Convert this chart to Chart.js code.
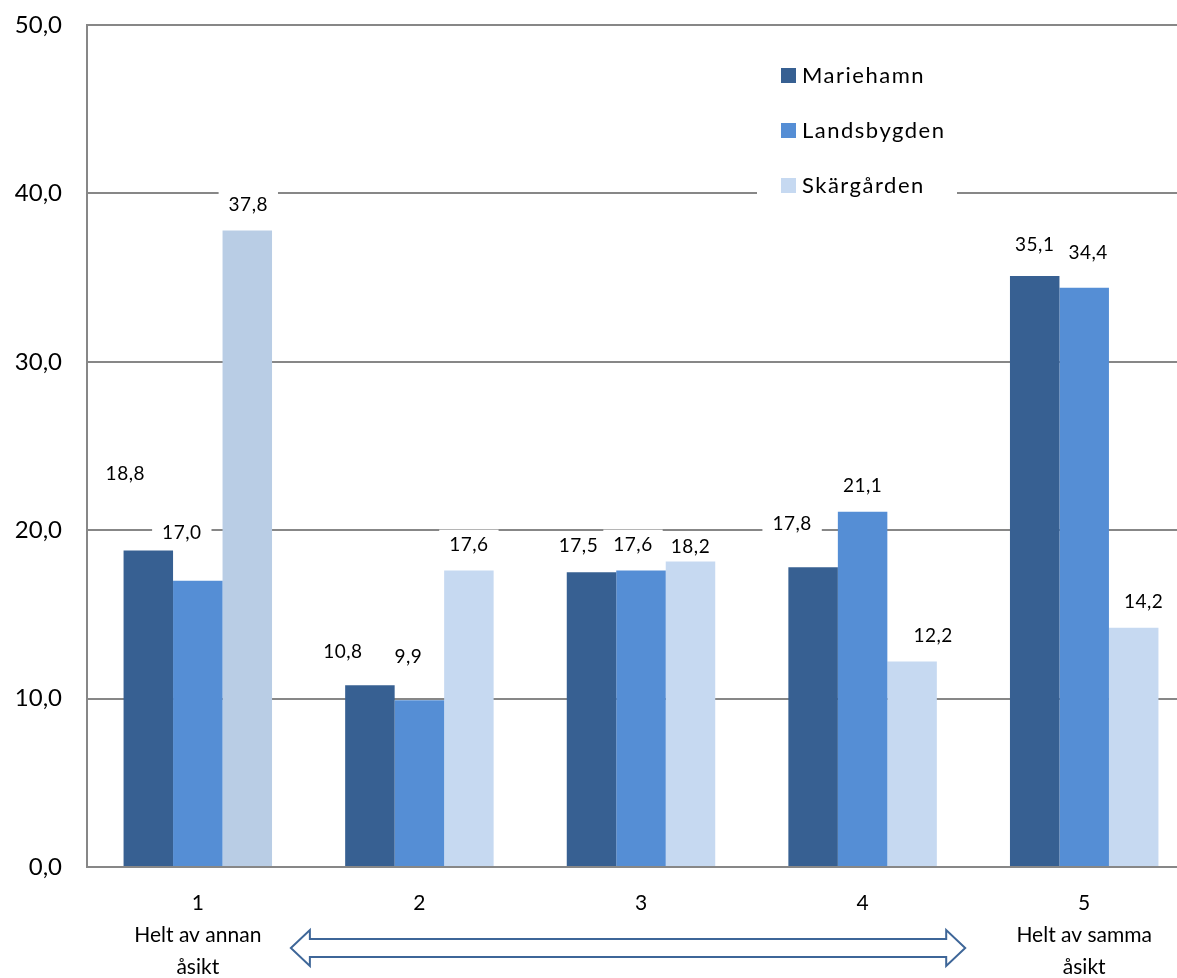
<!DOCTYPE html>
<html>
<head>
<meta charset="utf-8">
<script src="https://cdn.jsdelivr.net/npm/chart.js@4.4.1/dist/chart.umd.min.js"></script>
<style>
  html, body { margin: 0; padding: 0; background: #fff; overflow: hidden; }
  #wrap { width: 1195px; height: 978px; }
</style>
</head>
<body>
<div id="wrap"><canvas id="myChart"></canvas></div>
<script>
// data
var categories = [["1", "Helt av annan", "åsikt"], "2", "3", "4", ["5", "Helt av samma", "åsikt"]];
var seriesNames = ["Mariehamn", "Landsbygden", "Skärgården"];
var mariehamn = [18.8, 10.8, 17.5, 17.8, 35.1];
var landsbygden = [17.0, 9.9, 17.6, 21.1, 34.4];
var skargarden = [37.8, 17.6, 18.2, 12.2, 14.2];

var colDark = '#376092';
var colMid = '#558ED5';
var colLight = ['#B9CDE5', '#C6D9F1', '#C6D9F1', '#C6D9F1', '#C6D9F1'];
var gridCol = '#878787';
var font = 'Lato';

// label shifts (dx, dy) like the hand-moved labels in the original
var labelNudge = [
  [[-23, -51], [-27, -7], [-13, 0], [-21, -17], [0, -5]],
  [[-16, -22], [-11, -17], [-8, 0], [0, 0], [4, -9]],
  [[1, 0], [0, 0], [0, 12], [21, 0], [10, 0]]
];

function fmt(v) {
  return v.toFixed(1).replace('.', ',');
}

var valueLabels = {
  id: 'valueLabels',
  afterDatasetsDraw: function(chart) {
    var ctx = chart.ctx;
    ctx.save();
    ctx.font = '19px ' + font;
    ctx.letterSpacing = '0.5px';
    ctx.textAlign = 'center';
    ctx.textBaseline = 'middle';
    chart.data.datasets.forEach(function(ds, i) {
      chart.getDatasetMeta(i).data.forEach(function(bar, j) {
        var txt = fmt(ds.data[j]);
        var x = bar.x + labelNudge[i][j][0];
        var y = bar.y - 26 + labelNudge[i][j][1];
        var w = ctx.measureText(txt).width + 20;
        ctx.fillStyle = '#fff';
        ctx.fillRect(x - w / 2, y - 15, w, 30);
        ctx.fillStyle = '#000';
        ctx.fillText(txt, x, y);
      });
    });
    ctx.restore();
  }
};

var legendBox = {
  id: 'legendBox',
  afterDraw: function(chart) {
    var ctx = chart.ctx;
    var a = chart.chartArea;
    var left = a.left + 670, top = a.top + 20;
    ctx.save();
    ctx.fillStyle = '#fff';
    ctx.fillRect(left, top, 200, 162);
    ctx.font = '22px ' + font;
    ctx.letterSpacing = '1.5px';
    ctx.textBaseline = 'middle';
    ctx.textAlign = 'left';
    chart.data.datasets.forEach(function(ds, i) {
      var cy = top + 30 + i * 55;
      var c = Array.isArray(ds.backgroundColor) ? ds.backgroundColor[1] : ds.backgroundColor;
      ctx.fillStyle = c;
      ctx.fillRect(left + 24, cy - 7, 15, 15);
      ctx.fillStyle = '#000';
      ctx.fillText(ds.label, left + 45, cy + 1);
    });
    ctx.restore();
  }
};

var arrow = {
  id: 'arrow',
  afterDraw: function(chart) {
    var ctx = chart.ctx;
    var xs = chart.scales.x;
    var cw = xs.getPixelForValue(1) - xs.getPixelForValue(0);
    var x1 = xs.getPixelForValue(0) + 0.42 * cw;
    var x2 = xs.getPixelForValue(4) - 0.537 * cw;
    var y = chart.chartArea.bottom + 81;
    var hl = 19, hh = 18, sh = 9;
    ctx.save();
    ctx.beginPath();
    ctx.moveTo(x1, y);
    ctx.lineTo(x1 + hl, y - hh);
    ctx.lineTo(x1 + hl, y - sh);
    ctx.lineTo(x2 - hl, y - sh);
    ctx.lineTo(x2 - hl, y - hh);
    ctx.lineTo(x2, y);
    ctx.lineTo(x2 - hl, y + hh);
    ctx.lineTo(x2 - hl, y + sh);
    ctx.lineTo(x1 + hl, y + sh);
    ctx.lineTo(x1 + hl, y + hh);
    ctx.closePath();
    ctx.fillStyle = '#fff';
    ctx.fill();
    ctx.strokeStyle = '#3E6698';
    ctx.lineWidth = 2;
    ctx.stroke();
    ctx.restore();
  }
};

var ctx = document.getElementById('myChart');
var myChart = new Chart(ctx, {
  type: 'bar',
  data: {
    labels: categories,
    datasets: [
      { label: seriesNames[0], data: mariehamn, backgroundColor: colDark },
      { label: seriesNames[1], data: landsbygden, backgroundColor: colMid },
      { label: seriesNames[2], data: skargarden, backgroundColor: colLight }
    ]
  },
  options: {
    responsive: true,
    maintainAspectRatio: false,
    animation: false,
    datasets: {
      bar: { categoryPercentage: 0.67, barPercentage: 1.0 }
    },
    layout: { padding: { top: 25, left: 0, right: 0, bottom: 0 } },
    plugins: {
      legend: { display: false },
      tooltip: { enabled: false }
    },
    scales: {
      x: {
        grid: { display: false, drawTicks: false },
        border: { display: true, color: gridCol, width: 2 },
        ticks: {
          color: '#000',
          padding: 20,
          maxRotation: 0,
          font: { family: font, size: 21, lineHeight: '32px' }
        },
        afterFit: function(s) {
          s.height = 111;
          s.paddingTop = 0;
          s.paddingBottom = 0;
        }
      },
      y: {
        min: 0,
        max: 50,
        grid: { color: gridCol, lineWidth: 2, drawTicks: false },
        border: { display: true, color: gridCol, width: 2 },
        ticks: {
          stepSize: 10,
          color: '#000',
          padding: 25,
          font: { family: font, size: 24 },
          callback: function(v) { return fmt(v); }
        },
        afterFit: function(s) {
          s.width = 87;
          s.paddingTop = 0;
          s.paddingBottom = 0;
        }
      }
    }
  },
  plugins: [valueLabels, legendBox, arrow]
});
</script>
</body>
</html>
